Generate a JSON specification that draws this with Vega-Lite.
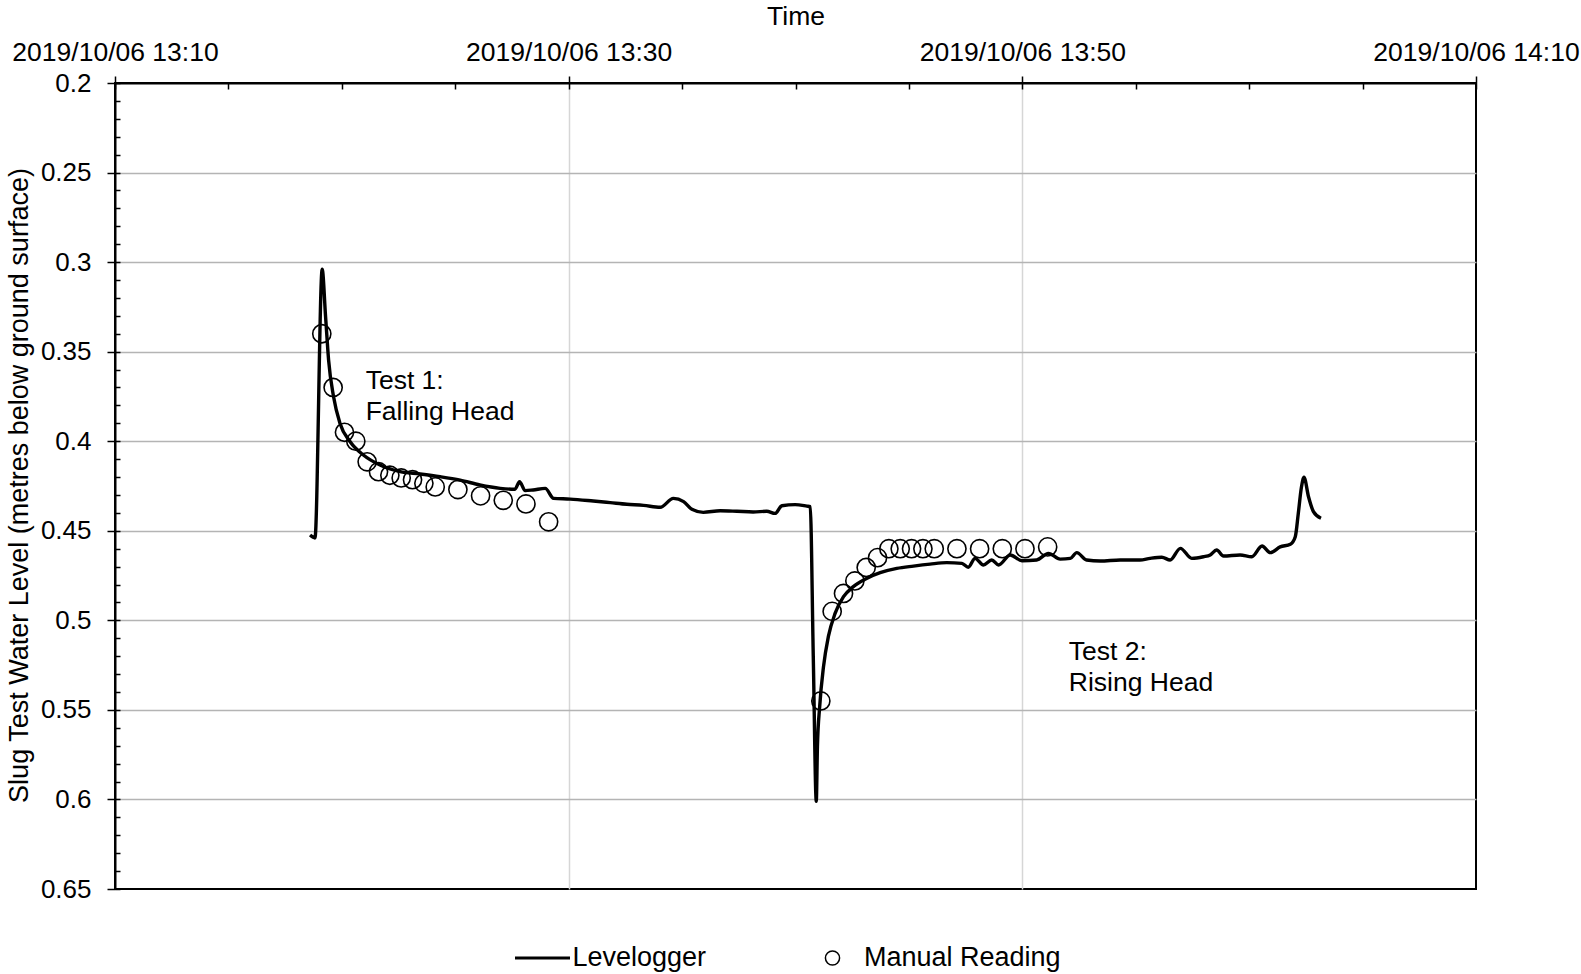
{
  "$schema": "https://vega.github.io/schema/vega-lite/v6.json",
  "width": 1361,
  "height": 806,
  "autosize": {"type": "none"},
  "padding": {"left": 115, "top": 83, "right": 105, "bottom": 85},
  "background": "white",
  "config": {
    "font": "Liberation Sans",
    "view": {"stroke": "black", "strokeWidth": 2}
  },
  "datasets": {
    "levelogger": [
      {"time": "2019-10-06T13:18:36", "level": 0.4524},
      {"time": "2019-10-06T13:18:49", "level": 0.454},
      {"time": "2019-10-06T13:19:08", "level": 0.304},
      {"time": "2019-10-06T13:19:17", "level": 0.3305},
      {"time": "2019-10-06T13:19:25", "level": 0.3547},
      {"time": "2019-10-06T13:19:38", "level": 0.375},
      {"time": "2019-10-06T13:19:55", "level": 0.39},
      {"time": "2019-10-06T13:20:22", "level": 0.4003},
      {"time": "2019-10-06T13:20:57", "level": 0.4077},
      {"time": "2019-10-06T13:21:41", "level": 0.4133},
      {"time": "2019-10-06T13:22:34", "level": 0.417},
      {"time": "2019-10-06T13:23:27", "level": 0.4183},
      {"time": "2019-10-06T13:24:20", "level": 0.4198},
      {"time": "2019-10-06T13:25:13", "level": 0.4217},
      {"time": "2019-10-06T13:26:05", "level": 0.4244},
      {"time": "2019-10-06T13:26:59", "level": 0.4263},
      {"time": "2019-10-06T13:27:38", "level": 0.4268},
      {"time": "2019-10-06T13:27:50", "level": 0.4226},
      {"time": "2019-10-06T13:28:05", "level": 0.4276},
      {"time": "2019-10-06T13:28:26", "level": 0.4272},
      {"time": "2019-10-06T13:28:58", "level": 0.4263},
      {"time": "2019-10-06T13:29:20", "level": 0.4319},
      {"time": "2019-10-06T13:30:04", "level": 0.4323},
      {"time": "2019-10-06T13:31:05", "level": 0.4334},
      {"time": "2019-10-06T13:31:50", "level": 0.4343},
      {"time": "2019-10-06T13:32:34", "level": 0.4352},
      {"time": "2019-10-06T13:33:18", "level": 0.4358},
      {"time": "2019-10-06T13:34:02", "level": 0.4369},
      {"time": "2019-10-06T13:34:37", "level": 0.4319},
      {"time": "2019-10-06T13:35:04", "level": 0.4337},
      {"time": "2019-10-06T13:35:26", "level": 0.438},
      {"time": "2019-10-06T13:35:56", "level": 0.4397},
      {"time": "2019-10-06T13:36:41", "level": 0.4388},
      {"time": "2019-10-06T13:37:25", "level": 0.4391},
      {"time": "2019-10-06T13:38:08", "level": 0.4395},
      {"time": "2019-10-06T13:38:44", "level": 0.4391},
      {"time": "2019-10-06T13:39:06", "level": 0.4403},
      {"time": "2019-10-06T13:39:24", "level": 0.436},
      {"time": "2019-10-06T13:39:59", "level": 0.4354},
      {"time": "2019-10-06T13:40:30", "level": 0.4362},
      {"time": "2019-10-06T13:40:39", "level": 0.4365},
      {"time": "2019-10-06T13:40:47", "level": 0.52},
      {"time": "2019-10-06T13:40:55", "level": 0.601},
      {"time": "2019-10-06T13:40:58", "level": 0.5705},
      {"time": "2019-10-06T13:41:04", "level": 0.548},
      {"time": "2019-10-06T13:41:14", "level": 0.526},
      {"time": "2019-10-06T13:41:27", "level": 0.509},
      {"time": "2019-10-06T13:41:45", "level": 0.496},
      {"time": "2019-10-06T13:42:07", "level": 0.4868},
      {"time": "2019-10-06T13:42:33", "level": 0.4812},
      {"time": "2019-10-06T13:43:08", "level": 0.4766},
      {"time": "2019-10-06T13:43:44", "level": 0.4734},
      {"time": "2019-10-06T13:44:28", "level": 0.471},
      {"time": "2019-10-06T13:45:12", "level": 0.4697},
      {"time": "2019-10-06T13:45:56", "level": 0.4686},
      {"time": "2019-10-06T13:46:40", "level": 0.4678},
      {"time": "2019-10-06T13:47:20", "level": 0.4682},
      {"time": "2019-10-06T13:47:37", "level": 0.4704},
      {"time": "2019-10-06T13:47:55", "level": 0.4654},
      {"time": "2019-10-06T13:48:17", "level": 0.4691},
      {"time": "2019-10-06T13:48:39", "level": 0.4663},
      {"time": "2019-10-06T13:48:57", "level": 0.4691},
      {"time": "2019-10-06T13:49:28", "level": 0.4635},
      {"time": "2019-10-06T13:49:59", "level": 0.4667},
      {"time": "2019-10-06T13:50:38", "level": 0.4663},
      {"time": "2019-10-06T13:51:09", "level": 0.4626},
      {"time": "2019-10-06T13:51:40", "level": 0.4658},
      {"time": "2019-10-06T13:52:07", "level": 0.4654},
      {"time": "2019-10-06T13:52:24", "level": 0.4622},
      {"time": "2019-10-06T13:52:50", "level": 0.4663},
      {"time": "2019-10-06T13:53:26", "level": 0.4669},
      {"time": "2019-10-06T13:54:19", "level": 0.4663},
      {"time": "2019-10-06T13:55:11", "level": 0.4663},
      {"time": "2019-10-06T13:55:38", "level": 0.4654},
      {"time": "2019-10-06T13:56:09", "level": 0.4648},
      {"time": "2019-10-06T13:56:31", "level": 0.4663},
      {"time": "2019-10-06T13:56:58", "level": 0.4598},
      {"time": "2019-10-06T13:57:28", "level": 0.4654},
      {"time": "2019-10-06T13:57:59", "level": 0.4645},
      {"time": "2019-10-06T13:58:17", "level": 0.4635},
      {"time": "2019-10-06T13:58:34", "level": 0.4607},
      {"time": "2019-10-06T13:58:52", "level": 0.4641},
      {"time": "2019-10-06T13:59:36", "level": 0.4635},
      {"time": "2019-10-06T14:00:07", "level": 0.4645},
      {"time": "2019-10-06T14:00:34", "level": 0.4585},
      {"time": "2019-10-06T14:00:56", "level": 0.4622},
      {"time": "2019-10-06T14:01:22", "level": 0.459},
      {"time": "2019-10-06T14:01:49", "level": 0.4575},
      {"time": "2019-10-06T14:02:02", "level": 0.4533},
      {"time": "2019-10-06T14:02:10", "level": 0.4402},
      {"time": "2019-10-06T14:02:18", "level": 0.426},
      {"time": "2019-10-06T14:02:25", "level": 0.4201},
      {"time": "2019-10-06T14:02:37", "level": 0.431},
      {"time": "2019-10-06T14:02:50", "level": 0.4393},
      {"time": "2019-10-06T14:03:10", "level": 0.443}
    ],
    "manual": [
      {"time": "2019-10-06T13:19:07", "level": 0.34},
      {"time": "2019-10-06T13:19:37", "level": 0.37},
      {"time": "2019-10-06T13:20:07", "level": 0.395},
      {"time": "2019-10-06T13:20:37", "level": 0.4},
      {"time": "2019-10-06T13:21:07", "level": 0.4115},
      {"time": "2019-10-06T13:21:37", "level": 0.417},
      {"time": "2019-10-06T13:22:07", "level": 0.419},
      {"time": "2019-10-06T13:22:37", "level": 0.4205},
      {"time": "2019-10-06T13:23:07", "level": 0.4215},
      {"time": "2019-10-06T13:23:37", "level": 0.4235},
      {"time": "2019-10-06T13:24:07", "level": 0.4255},
      {"time": "2019-10-06T13:25:07", "level": 0.427},
      {"time": "2019-10-06T13:26:07", "level": 0.4305},
      {"time": "2019-10-06T13:27:07", "level": 0.433},
      {"time": "2019-10-06T13:28:07", "level": 0.435},
      {"time": "2019-10-06T13:29:07", "level": 0.445},
      {"time": "2019-10-06T13:41:07", "level": 0.545},
      {"time": "2019-10-06T13:41:37", "level": 0.495},
      {"time": "2019-10-06T13:42:07", "level": 0.485},
      {"time": "2019-10-06T13:42:37", "level": 0.478},
      {"time": "2019-10-06T13:43:07", "level": 0.4705},
      {"time": "2019-10-06T13:43:37", "level": 0.465},
      {"time": "2019-10-06T13:44:07", "level": 0.46},
      {"time": "2019-10-06T13:44:37", "level": 0.46},
      {"time": "2019-10-06T13:45:07", "level": 0.46},
      {"time": "2019-10-06T13:45:37", "level": 0.46},
      {"time": "2019-10-06T13:46:07", "level": 0.46},
      {"time": "2019-10-06T13:47:07", "level": 0.46},
      {"time": "2019-10-06T13:48:07", "level": 0.46},
      {"time": "2019-10-06T13:49:07", "level": 0.46},
      {"time": "2019-10-06T13:50:07", "level": 0.46},
      {"time": "2019-10-06T13:51:07", "level": 0.459}
    ],
    "notes": [
      {"time": "2019-10-06T13:21:03", "level": 0.371, "label": ["Test 1:", "Falling Head"]},
      {"time": "2019-10-06T13:52:03", "level": 0.5224, "label": ["Test 2:", "Rising Head"]}
    ]
  },
  "resolve": {"axis": {"x": "independent", "y": "independent"}},
  "layer": [
    {
      "data": {"name": "notes"},
      "mark": {"type": "text", "align": "left", "baseline": "alphabetic", "fontSize": 26.5, "lineHeight": 31, "color": "black"},
      "encoding": {
        "x": {
          "field": "time", "type": "temporal",
          "scale": {"domain": [{"year": 2019, "month": 10, "date": 6, "hours": 13, "minutes": 10}, {"year": 2019, "month": 10, "date": 6, "hours": 14, "minutes": 10}]},
          "axis": {
            "orient": "top", "title": null, "labels": false, "ticks": false, "domain": false,
            "grid": true, "gridColor": "#d6d6d6", "gridWidth": 1.5, "zindex": 0,
            "values": [
              {"year": 2019, "month": 10, "date": 6, "hours": 13, "minutes": 30},
              {"year": 2019, "month": 10, "date": 6, "hours": 13, "minutes": 50}
            ]
          }
        },
        "y": {
          "field": "level", "type": "quantitative",
          "scale": {"domain": [0.2, 0.65], "reverse": true, "nice": false, "zero": false},
          "axis": {
            "orient": "left", "title": null, "labels": false, "ticks": false, "domain": false,
            "grid": true, "gridColor": "#b4b4b4", "gridWidth": 1.5, "zindex": 0,
            "values": [0.25, 0.3, 0.35, 0.4, 0.45, 0.5, 0.55, 0.6]
          }
        },
        "text": {"field": "label"}
      }
    },
    {
      "data": {"name": "levelogger"},
      "mark": {"type": "line", "interpolate": "monotone", "strokeWidth": 3.4, "color": "black"},
      "encoding": {
        "x": {
          "field": "time", "type": "temporal",
          "scale": {"domain": [{"year": 2019, "month": 10, "date": 6, "hours": 13, "minutes": 10}, {"year": 2019, "month": 10, "date": 6, "hours": 14, "minutes": 10}]},
          "axis": {
            "orient": "top", "title": "Time", "titleFontSize": 26.5, "titleFontWeight": "normal", "titleColor": "black",
            "titleBaseline": "alphabetic", "titleY": -59,
            "format": "%Y/%m/%d %H:%M", "labelFontSize": 26.5, "labelColor": "black", "labelLimit": 0,
            "labelBaseline": "alphabetic", "labelPadding": 16, "labelFlush": false, "labelOverlap": false, "labelBound": false,
            "tickSize": 7, "tickColor": "black", "tickWidth": 1.5,
            "domain": true, "domainColor": "black", "domainWidth": 2,
            "grid": false, "zindex": 1,
            "values": [
              {"year": 2019, "month": 10, "date": 6, "hours": 13, "minutes": 10},
              {"year": 2019, "month": 10, "date": 6, "hours": 13, "minutes": 30},
              {"year": 2019, "month": 10, "date": 6, "hours": 13, "minutes": 50},
              {"year": 2019, "month": 10, "date": 6, "hours": 14, "minutes": 10}
            ]
          }
        },
        "y": {
          "field": "level", "type": "quantitative",
          "scale": {"domain": [0.2, 0.65], "reverse": true, "nice": false, "zero": false},
          "axis": {
            "orient": "left", "title": "Slug Test Water Level (metres below ground surface)",
            "titleFontSize": 27, "titleFontWeight": "normal", "titleColor": "black", "titleLimit": 0,
            "titleAngle": -90, "titleBaseline": "alphabetic", "titleX": -88, "titleY": 402, "titleAlign": "center",
            "format": "~g", "labelFontSize": 26, "labelColor": "black", "labelPadding": 16, "labelLimit": 0,
            "labelFlush": false, "labelOverlap": false, "labelBound": false,
            "tickSize": 8, "tickColor": "black", "tickWidth": 1.5,
            "domain": true, "domainColor": "black", "domainWidth": 2,
            "grid": false, "zindex": 1,
            "values": [0.2, 0.25, 0.3, 0.35, 0.4, 0.45, 0.5, 0.55, 0.6, 0.65]
          }
        },
        "color": {
          "datum": "Levelogger", "type": "nominal",
          "scale": {"range": ["black"]},
          "legend": {
            "orient": "none", "legendX": 398.5, "legendY": 846, "direction": "horizontal",
            "title": null, "labelFontSize": 27, "labelColor": "black", "labelOffset": 1, "labelLimit": 0,
            "symbolType": "stroke", "symbolSize": 3025, "symbolStrokeWidth": 3, "symbolStrokeColor": "black",
            "padding": 0
          }
        }
      }
    },
    {
      "data": {"name": "manual"},
      "mark": {"type": "point", "filled": false, "size": 330, "strokeWidth": 1.6, "color": "black", "opacity": 1},
      "encoding": {
        "x": {
          "field": "time", "type": "temporal",
          "scale": {"domain": [{"year": 2019, "month": 10, "date": 6, "hours": 13, "minutes": 10}, {"year": 2019, "month": 10, "date": 6, "hours": 14, "minutes": 10}]},
          "axis": {
            "orient": "top", "title": null, "labels": false, "domain": false, "grid": false,
            "tickSize": -6, "tickColor": "black", "tickWidth": 1.5, "zindex": 1,
            "values": [
              {"year": 2019, "month": 10, "date": 6, "hours": 13, "minutes": 10},
              {"year": 2019, "month": 10, "date": 6, "hours": 13, "minutes": 15},
              {"year": 2019, "month": 10, "date": 6, "hours": 13, "minutes": 20},
              {"year": 2019, "month": 10, "date": 6, "hours": 13, "minutes": 25},
              {"year": 2019, "month": 10, "date": 6, "hours": 13, "minutes": 30},
              {"year": 2019, "month": 10, "date": 6, "hours": 13, "minutes": 35},
              {"year": 2019, "month": 10, "date": 6, "hours": 13, "minutes": 40},
              {"year": 2019, "month": 10, "date": 6, "hours": 13, "minutes": 45},
              {"year": 2019, "month": 10, "date": 6, "hours": 13, "minutes": 50},
              {"year": 2019, "month": 10, "date": 6, "hours": 13, "minutes": 55},
              {"year": 2019, "month": 10, "date": 6, "hours": 14, "minutes": 0},
              {"year": 2019, "month": 10, "date": 6, "hours": 14, "minutes": 5},
              {"year": 2019, "month": 10, "date": 6, "hours": 14, "minutes": 10}
            ]
          }
        },
        "y": {
          "field": "level", "type": "quantitative",
          "scale": {"domain": [0.2, 0.65], "reverse": true, "nice": false, "zero": false},
          "axis": {
            "orient": "left", "title": null, "labels": false, "domain": false, "grid": false,
            "tickSize": -5, "tickColor": "black", "tickWidth": 1.5, "zindex": 1,
            "values": [0.2, 0.21, 0.22, 0.23, 0.24, 0.25, 0.26, 0.27, 0.28, 0.29, 0.3, 0.31, 0.32, 0.33, 0.34, 0.35, 0.36, 0.37, 0.38, 0.39, 0.4, 0.41, 0.42, 0.43, 0.44, 0.45, 0.46, 0.47, 0.48, 0.49, 0.5, 0.51, 0.52, 0.53, 0.54, 0.55, 0.56, 0.57, 0.58, 0.59, 0.6, 0.61, 0.62, 0.63, 0.64, 0.65]
          }
        },
        "shape": {
          "datum": "Manual Reading", "type": "nominal",
          "scale": {"range": ["circle"]},
          "legend": {
            "orient": "none", "legendX": 704, "legendY": 861.5, "direction": "horizontal",
            "title": null, "labelFontSize": 27, "labelColor": "black", "labelOffset": 18, "labelLimit": 0,
            "symbolSize": 200, "symbolStrokeWidth": 1.5, "symbolStrokeColor": "black", "symbolFillColor": "transparent",
            "padding": 0
          }
        }
      }
    }
  ]
}
